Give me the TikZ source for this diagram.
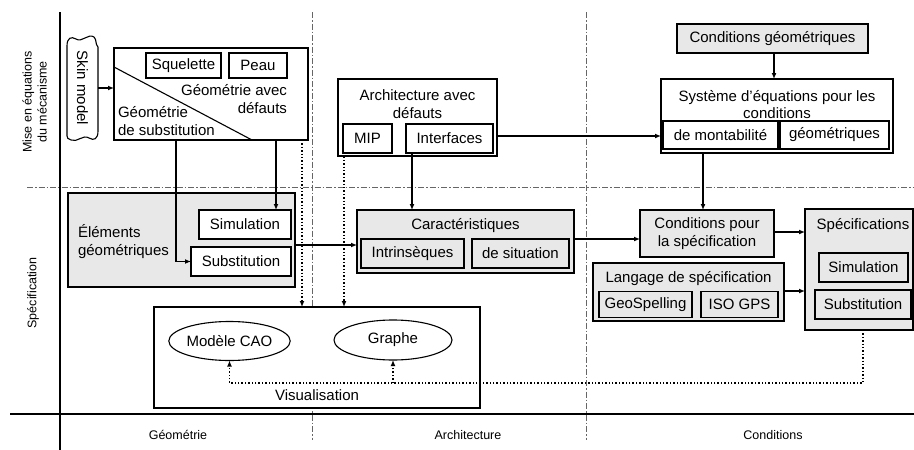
\documentclass[tikz,border=0pt]{standalone}
\usepackage{fontspec}
\setmainfont{Liberation Sans}
\usetikzlibrary{arrows.meta,calc,shapes.geometric}
\begin{document}
\begin{tikzpicture}[x=1pt,y=-1pt,
  every node/.style={font=\fontsize{15}{17.5}\selectfont, inner sep=0pt, outer sep=0pt},
  bx/.style={draw, line width=1.1pt, fill=white},
  gbx/.style={draw, line width=1.1pt, fill=black!9},
  ell/.style={draw, ellipse, line width=1.1pt, fill=white},
  axlabel/.style={font=\fontsize{12.5}{15}\selectfont},
  arr/.style={line width=1.2pt, -{Latex[length=6pt,width=5pt]}},
  dotarr/.style={line width=1.4pt, dotted, -{Latex[length=6pt,width=5pt]}},
  grid/.style={line width=0.7pt, black!60, dash pattern=on 6pt off 2pt on 1.5pt off 2pt},
  axis/.style={line width=1.8pt}]
\useasboundingbox (0,0) rectangle (914,450);

% grid lines
\draw[grid] (27,187) -- (914,187);
\draw[grid] (312,12) -- (312,440);
\draw[grid] (586,12) -- (586,440);
\draw[axis] (60,12) -- (60,450);
\draw[axis] (10,414) -- (914,414);

% axis labels
\node[axlabel, rotate=90, align=center] (lab1) at (34.5,102) {Mise en équations\\du mécanisme};
\node[axlabel, rotate=90] (lab2) at (33,293) {Spécification};
\node[axlabel] (labg) at (178,435) {Géométrie};
\node[axlabel] (laba) at (468,435) {Architecture};
\node[axlabel] (labc) at (773,435) {Conditions};

% Skin model
\draw[line width=1.1pt, fill=white] (67,136) -- (67,46)
  .. controls (67,38) and (71,36) .. (76,39)
  .. controls (82,43) and (88,33) .. (94,37)
  .. controls (97,40) and (95,44) .. (98,47) -- (98,131)
  .. controls (98,139) and (94,141) .. (89,138)
  .. controls (83,134) and (77,143) .. (71,140)
  .. controls (68,139) and (67,138) .. (67,136) -- cycle;
\node[rotate=-90, minimum width=101pt, minimum height=31pt] (skin) at (82.5,88) {Skin model};

% Géométrie avec défauts
\node[bx, minimum width=194pt, minimum height=92pt] (geo) at (211,94) {};
\draw[line width=1.1pt] ($(geo.north west)+(0,19)$) -- ($(geo.south west)+(138,0)$);
\node[bx, minimum width=75pt, minimum height=25pt] (sque) at (183.5,65.5) {Squelette};
\node[bx, minimum width=58pt, minimum height=25pt] (peau) at (258,65.5) {Peau};
\node[anchor=east, align=right] (gad) at (287,99) {Géométrie avec\\défauts};
\node[anchor=west, align=left] (gds) at (118,121) {Géométrie\\de substitution};

% Éléments géométriques
\node[gbx, minimum width=227pt, minimum height=94pt] (elem) at (181.5,240) {};
\node[anchor=west, align=left] (elemt) at (78,241.5) {Éléments\\géométriques};
\node[bx, minimum width=92pt, minimum height=29pt] (simL) at (245,224.5) {Simulation};
\node[bx, minimum width=100pt, minimum height=29pt] (subL) at (241,261.5) {Substitution};

% Visualisation
\node[bx, minimum width=326pt, minimum height=101pt] (vis) at (317,357.5) {};
\node[ell, minimum width=117pt, minimum height=39pt] (cao) at (229.5,341) {Modèle CAO};
\node[ell, minimum width=118pt, minimum height=40pt] (graphe) at (393,340) {Graphe};
\node (vist) at (317,395) {Visualisation};

% Architecture avec défauts
\node[bx, minimum width=159pt, minimum height=77pt] (archi) at (417.5,117.5) {};
\node[align=center] (archit) at (417.5,104) {Architecture avec\\défauts};
\node[bx, minimum width=49pt, minimum height=29pt] (mip) at (367.5,138.5) {MIP};
\node[bx, minimum width=87pt, minimum height=29pt] (interf) at (449.5,138.5) {Interfaces};

% Caractéristiques
\node[gbx, minimum width=217pt, minimum height=63pt] (car) at (465.5,241.5) {};
\node (cart) at (465.5,226) {Caractéristiques};
\node[gbx, minimum width=103pt, minimum height=29pt] (intr) at (412.5,253.5) {Intrinsèques};
\node[gbx, minimum width=97pt, minimum height=29pt] (situ) at (520.5,253.5) {de situation};

% Conditions
\node[gbx, minimum width=191pt, minimum height=29pt] (condgeo) at (772.5,38.5) {Conditions géométriques};
\node[bx, minimum width=232pt, minimum height=74pt] (sys) at (777,116) {};
\node[align=center] (syst) at (777,104.5) {Système d’équations pour les\\conditions};
\node[bx, minimum width=115pt, minimum height=28pt] (mont) at (720.5,135) {de montabilité};
\node[bx, minimum width=109pt, minimum height=28pt] (geom) at (834.5,135) {géométriques};

\node[gbx, minimum width=134pt, minimum height=47pt, align=center] (condspec) at (707,233.5) {Conditions pour\\la spécification};
\node[gbx, minimum width=191pt, minimum height=58pt] (lang) at (688.5,292) {};
\node (langt) at (688.5,279) {Langage de spécification};
\node[gbx, minimum width=93pt, minimum height=26pt] (geosp) at (645.5,304.5) {GeoSpelling};
\node[gbx, minimum width=77pt, minimum height=26pt] (iso) at (739.5,304.5) {ISO GPS};

\node[gbx, minimum width=108pt, minimum height=121pt] (spec) at (859,269.5) {};
\node (spect) at (863,226) {Spécifications};
\node[gbx, minimum width=89pt, minimum height=29pt] (simR) at (863.5,267.5) {Simulation};
\node[gbx, minimum width=96pt, minimum height=29pt] (subR) at (863,304.5) {Substitution};

% connectors
\draw[arr] (skin.north) -- (skin.north -| geo.west);
\draw[arr] ([xshift=65pt]geo.south) -- ([xshift=65pt]geo.south |- simL.north);
\draw[arr] ([xshift=-35pt]geo.south) |- (subL.west);
\draw[dotarr] ([xshift=91pt]geo.south) -- ([xshift=91pt]geo.south |- vis.north);
\draw[arr] ([yshift=-5pt]elem.east) -- ([yshift=-5pt]elem.east -| car.west);
\draw[dotarr] ([xshift=-23.5pt]mip.south) -- ([xshift=-23.5pt]mip.south |- vis.north);
\draw[arr] ([xshift=-37.5pt]interf.south) -- ([xshift=-37.5pt]interf.south |- car.north);
\draw[arr] ([yshift=2.5pt]interf.east -| archi.east) -- ([yshift=2.5pt]interf.east -| sys.west);
\draw[arr] ([xshift=1.5pt]condgeo.south) -- ([xshift=1.5pt]condgeo.south |- sys.north);
\draw[arr] ([xshift=-74pt]sys.south) -- ([xshift=-74pt]sys.south |- condspec.north);
\draw[arr] ([yshift=2.5pt]car.east) -- ([yshift=2.5pt]car.east -| condspec.west);
\draw[arr] ([yshift=1.5pt]condspec.east) -- ([yshift=1.5pt]condspec.east -| spec.west);
\draw[arr] ([yshift=1pt]lang.east) -- ([yshift=1pt]lang.east -| spec.west);
\coordinate (fb) at (229.5,383);
\draw[dotarr] ([xshift=4pt]spec.south) |- (fb) -- (cao.south);
\draw[dotarr] (graphe.south |- fb) -- (graphe.south);
\end{tikzpicture}
\end{document}
